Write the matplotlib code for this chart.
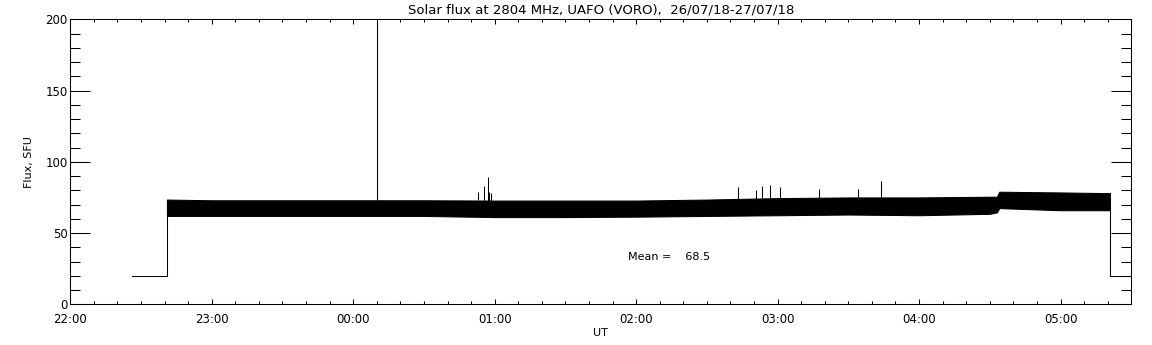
import matplotlib
matplotlib.use("Agg")
import matplotlib.pyplot as plt
from matplotlib.ticker import MultipleLocator, FixedLocator
import numpy as np

# ---- data (minutes after 22:00 UT, flux in SFU) ----
pre_t = [26.0, 41.0]
pre_v = [20.0, 20.0]

env_t = [41, 60, 90, 120, 150, 180, 210, 240, 270, 300, 330, 360, 390, 393, 394, 420, 440.8]
env_low = [62.0, 62.0, 62.0, 62.0, 62.0, 61.2, 61.2, 61.5, 62.0, 62.5, 63.0, 62.5, 63.5, 64.5, 67.5, 66.0, 66.0]
env_high = [73.5, 73.0, 73.0, 73.0, 73.0, 72.8, 72.8, 72.8, 73.5, 74.5, 75.0, 75.0, 75.5, 75.5, 79.0, 78.5, 78.0]

post_t = [440.8, 450.0]
post_v = [20.0, 20.0]

spike_t = [130.0, 172.9, 175.3, 177.0, 177.7, 178.4, 283.3, 290.7, 293.4, 296.8, 301.0, 317.5, 334.0, 344.0]
spike_v = [200.0, 79.0, 83.0, 89.5, 79.0, 78.0, 82.0, 80.0, 83.0, 83.5, 82.5, 81.0, 81.0, 86.5]

mean_value = 68.5
tick_minutes = [0, 60, 120, 180, 240, 300, 360, 420]
tick_labels = ["22:00", "23:00", "00:00", "01:00", "02:00", "03:00", "04:00", "05:00"]

title = "Solar flux at 2804 MHz, UAFO (VORO),  26/07/18-27/07/18"

# ---- figure ----
fig = plt.figure(figsize=(11.52, 3.45), dpi=100)
ax = fig.add_axes([0.061, 0.118, 0.921, 0.826])

lw = 0.75
ax.plot(pre_t, pre_v, color="black", lw=lw)
ax.plot([env_t[0], env_t[0]], [pre_v[-1], env_high[0]], color="black", lw=lw)
ax.fill_between(env_t, env_low, env_high, facecolor="black", edgecolor="black", lw=lw)
ax.plot([env_t[-1], env_t[-1]], [env_high[-1], post_v[0]], color="black", lw=lw)
ax.plot(post_t, post_v, color="black", lw=lw)

base = np.interp(spike_t, env_t, env_high)
ax.vlines(spike_t, base, spike_v, color="black", lw=lw)

ax.set_xlim(0, 450)
ax.set_ylim(0, 200)

ax.xaxis.set_major_locator(FixedLocator(tick_minutes))
ax.set_xticklabels(tick_labels)
ax.xaxis.set_minor_locator(MultipleLocator(10))
ax.yaxis.set_major_locator(MultipleLocator(50))
ax.yaxis.set_minor_locator(MultipleLocator(10))

ax.tick_params(axis="x", which="major", direction="in", length=3.6, width=0.75,
               top=True, bottom=True, labelsize=8.5, pad=6)
ax.tick_params(axis="x", which="minor", direction="in", length=2.2, width=0.75,
               top=True, bottom=True)
ax.tick_params(axis="y", which="major", direction="in", length=14.5, width=0.75,
               left=True, right=True, labelsize=8.5, pad=2)
ax.tick_params(axis="y", which="minor", direction="in", length=7.5, width=0.75,
               left=True, right=True)
for s in ax.spines.values():
    s.set_linewidth(0.75)

ax.set_title(title, fontsize=9.5, pad=4)
ax.set_xlabel("UT", fontsize=8, labelpad=2)
ax.set_ylabel("Flux, SFU", fontsize=8, labelpad=8)

ax.text(236.6, 33.5, "Mean =    %.1f" % mean_value, fontsize=8, va="center", ha="left")

fig.savefig("out.png", dpi=100)
